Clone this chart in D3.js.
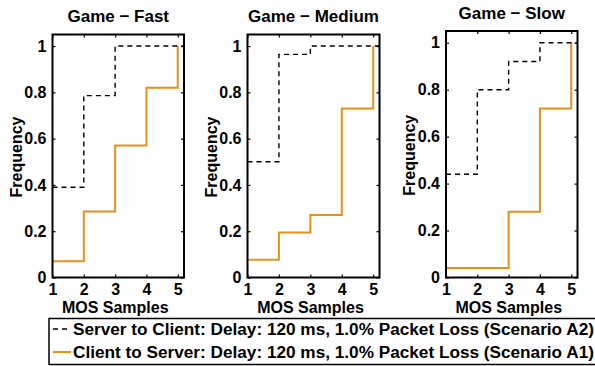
<!DOCTYPE html>
<html>
<head>
<meta charset="utf-8">
<script src="https://cdn.jsdelivr.net/npm/d3@7"></script>
<style>
  html, body { margin: 0; padding: 0; background: #fff; }
  svg { display: block; font-family: "Liberation Sans", Arial, sans-serif; font-weight: bold; }
</style>
</head>
<body>
<svg id="chart" width="595" height="366"></svg>
<script>
// MOS sample levels on the x axis and the tick labels
const mosLevels = [1, 2, 3, 4, 5];
const xTicks = [1, 2, 3, 4, 5];
const yTicks = [0, 0.2, 0.4, 0.6, 0.8, 1];

const panelTitles = ["Game \u2212 Fast", "Game \u2212 Medium", "Game \u2212 Slow"];

// Cumulative frequency of each MOS score, one row per game speed
const serverToClient = [
  [0.39, 0.786, 1.0, 1.0, 1.0],
  [0.50, 0.964, 1.0, 1.0, 1.0],
  [0.44, 0.80, 0.92, 1.0, 1.0]
];
const clientToServer = [
  [0.07, 0.285, 0.57, 0.82, 1.0],
  [0.077, 0.194, 0.27, 0.73, 1.0],
  [0.04, 0.04, 0.28, 0.72, 1.0]
];

const seriesNames = [
  "Server to Client: Delay: 120 ms, 1.0% Packet Loss (Scenario A2)",
  "Client to Server: Delay: 120 ms, 1.0% Packet Loss (Scenario A1)"
];

const orange = "#e8901c";
const svg = d3.select("#chart");

// Axes boxes for the three panels
const panels = [
  { left: 52.5, right: 184, top: 34.5, bottom: 277.5 },
  { left: 247.5, right: 379.5, top: 34.5, bottom: 277.5 },
  { left: 446, right: 577.5, top: 31, bottom: 277.5 }
];

const xMax = 5.2, yMax = 1.05;

panels.forEach((p, i) => {
  const x = d3.scaleLinear().domain([1, xMax]).range([p.left, p.right]);
  const y = d3.scaleLinear().domain([0, yMax]).range([p.bottom, p.top]);
  const g = svg.append("g");

  const stair = d3.line()
    .x(d => x(d[0]))
    .y(d => y(d[1]))
    .curve(d3.curveStepAfter);

  // Client to server: solid orange staircase ending at MOS 5
  const a1 = mosLevels.map((m, k) => [m, clientToServer[i][k]]);
  g.append("path")
    .attr("d", stair(a1))
    .attr("fill", "none")
    .attr("stroke", orange)
    .attr("stroke-width", 2);

  // Server to client: dashed staircase, carried to the right edge
  const a2 = mosLevels.map((m, k) => [m, serverToClient[i][k]]);
  a2.push([xMax, serverToClient[i][mosLevels.length - 1]]);
  g.append("path")
    .attr("d", stair(a2))
    .attr("fill", "none")
    .attr("stroke", "#000")
    .attr("stroke-width", 1.4)
    .attr("stroke-dasharray", "5,4");

  const tickStyle = sel => {
    sel.select(".domain").remove();
    sel.selectAll(".tick line").attr("stroke", "#000").attr("stroke-width", 1.2);
    sel.selectAll(".tick text")
      .attr("fill", "#000")
      .style("font-size", "16px")
      .style("font-weight", "bold")
      .style("font-family", "'Liberation Sans', Arial, sans-serif");
  };

  g.append("g").attr("transform", `translate(0,${p.bottom})`)
    .call(d3.axisBottom(x).tickValues(xTicks).tickFormat(d3.format("d")).tickSizeInner(-3).tickSizeOuter(0).tickPadding(6))
    .call(tickStyle);
  g.append("g").attr("transform", `translate(0,${p.top})`)
    .call(d3.axisTop(x).tickValues(xTicks).tickFormat("").tickSizeInner(-3).tickSizeOuter(0))
    .call(tickStyle);
  g.append("g").attr("transform", `translate(${p.left},0)`)
    .call(d3.axisLeft(y).tickValues(yTicks).tickFormat(d => d === 0 || d === 1 ? d3.format("d")(d) : d3.format(".1f")(d)).tickSizeInner(-3).tickSizeOuter(0).tickPadding(6))
    .call(tickStyle);
  g.append("g").attr("transform", `translate(${p.right},0)`)
    .call(d3.axisRight(y).tickValues(yTicks).tickFormat("").tickSizeInner(-3).tickSizeOuter(0))
    .call(tickStyle);

  // Axes frame
  g.append("rect")
    .attr("x", p.left).attr("y", p.top)
    .attr("width", p.right - p.left).attr("height", p.bottom - p.top)
    .attr("fill", "none").attr("stroke", "#000").attr("stroke-width", 2);

  const cx = (p.left + p.right) / 2;
  g.append("text")
    .attr("x", cx).attr("y", p.top - 12.5)
    .attr("text-anchor", "middle")
    .style("font-size", "17px")
    .text(panelTitles[i]);

  g.append("text")
    .attr("x", cx - 3).attr("y", p.bottom + 35)
    .attr("text-anchor", "middle")
    .style("font-size", "16px")
    .text("MOS Samples");

  g.append("text")
    .attr("transform", `translate(${p.left - 31},${(p.top + p.bottom) / 2 + 1}) rotate(-90)`)
    .attr("text-anchor", "middle")
    .style("font-size", "16px")
    .text("Frequency");
});

// Legend
const lg = svg.append("g");
lg.append("rect")
  .attr("x", 49).attr("y", 318.5)
  .attr("width", 560).attr("height", 46)
  .attr("fill", "#fff").attr("stroke", "#000").attr("stroke-width", 1.5);

const rowsY = [329, 352];
const styles = [
  { stroke: "#000", dash: "5,4", width: 1.4 },
  { stroke: orange, dash: null, width: 2 }
];
seriesNames.forEach((name, k) => {
  lg.append("line")
    .attr("x1", 53).attr("x2", 71)
    .attr("y1", rowsY[k]).attr("y2", rowsY[k])
    .attr("stroke", styles[k].stroke)
    .attr("stroke-width", styles[k].width)
    .attr("stroke-dasharray", styles[k].dash);
  lg.append("text")
    .attr("x", 73).attr("y", rowsY[k] + 6)
    .style("font-size", "17.2px")
    .text(name);
});
</script>
</body>
</html>
